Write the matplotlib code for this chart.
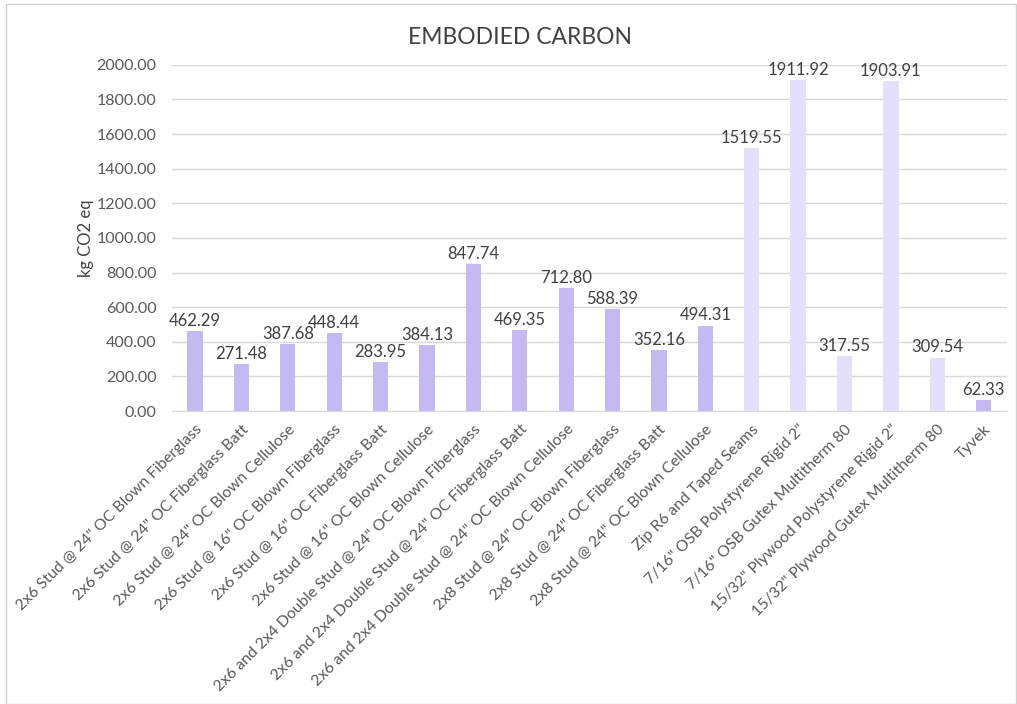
import matplotlib
matplotlib.use("Agg")
import matplotlib.pyplot as plt
from matplotlib.patches import Rectangle

plt.rcParams['font.family'] = ['Lato', 'DejaVu Sans']

# wall assemblies and their embodied carbon (kg CO2 eq)
assemblies = [
    '2x6 Stud @ 24" OC Blown Fiberglass',
    '2x6 Stud @ 24" OC Fiberglass Batt',
    '2x6 Stud @ 24" OC Blown Cellulose',
    '2x6 Stud @ 16" OC Blown Fiberglass',
    '2x6 Stud @ 16" OC Fiberglass Batt',
    '2x6 Stud @ 16" OC Blown Cellulose',
    '2x6 and 2x4 Double Stud @ 24" OC Blown Fiberglass',
    '2x6 and 2x4 Double Stud @ 24" OC Fiberglass Batt',
    '2x6 and 2x4 Double Stud @ 24" OC Blown Cellulose',
    '2x8 Stud @ 24" OC Blown Fiberglass',
    '2x8 Stud @ 24" OC Fiberglass Batt',
    '2x8 Stud @ 24" OC Blown Cellulose',
    'Zip R6 and Taped Seams',
    '7/16" OSB Polystyrene Rigid 2"',
    '7/16" OSB Gutex Multitherm 80',
    '15/32" Plywood Polystyrene Rigid 2"',
    '15/32" Plywood Gutex Multitherm 80',
    'Tyvek',
]
carbon = [462.29, 271.48, 387.68, 448.44, 283.95, 384.13, 847.74, 469.35,
          712.80, 588.39, 352.16, 494.31, 1519.55, 1911.92, 317.55, 1903.91,
          309.54, 62.33]
# framing/insulation vs sheathing groups
is_sheathing = [False] * 12 + [True] * 5 + [False]

dark = '#c5b9f2'
light = '#e4dffa'
colors = [light if s else dark for s in is_sheathing]

fig = plt.figure(figsize=(10.17, 7.04), dpi=100)
ax = fig.add_axes([0.169, 0.416, 0.821, 0.492])

x = list(range(len(carbon)))
ax.bar(x, carbon, width=0.33, color=colors, zorder=3)

for xi, v in zip(x, carbon):
    ax.text(xi, v + 12, f'{v:.2f}', ha='center', va='bottom',
            fontsize=12, color='#404040', zorder=4)

ax.set_xlim(-0.5, len(carbon) - 0.5)
ax.set_ylim(0, 2000)
ax.set_yticks(range(0, 2001, 200))
ax.set_yticklabels([f'{t:.2f}' for t in range(0, 2001, 200)])
ax.yaxis.grid(True, color='#d9d9d9', linewidth=1, zorder=0)
ax.set_axisbelow(True)

ax.set_xticks(x)
ax.set_xticklabels(assemblies, rotation=45, ha='right', rotation_mode='anchor',
                   fontsize=11.3, color='#595959')
ax.tick_params(axis='y', labelsize=11.5, labelcolor='#595959', length=0, pad=11)
ax.tick_params(axis='x', length=0, pad=8)

for s in ['top', 'right', 'left']:
    ax.spines[s].set_visible(False)
ax.spines['bottom'].set_color('#d9d9d9')

ax.set_ylabel('kg CO2 eq', fontsize=12, color='#404040', labelpad=2)
fig.text(0.511, 0.947, 'EMBODIED CARBON', ha='center', va='center',
         fontsize=16.5, color='#404040')

fig.patches.append(Rectangle((0.006, 0.0), 0.993, 0.995, transform=fig.transFigure,
                             fill=False, edgecolor='#d0d0d0', linewidth=1))

fig.savefig('out.png', dpi=100)
